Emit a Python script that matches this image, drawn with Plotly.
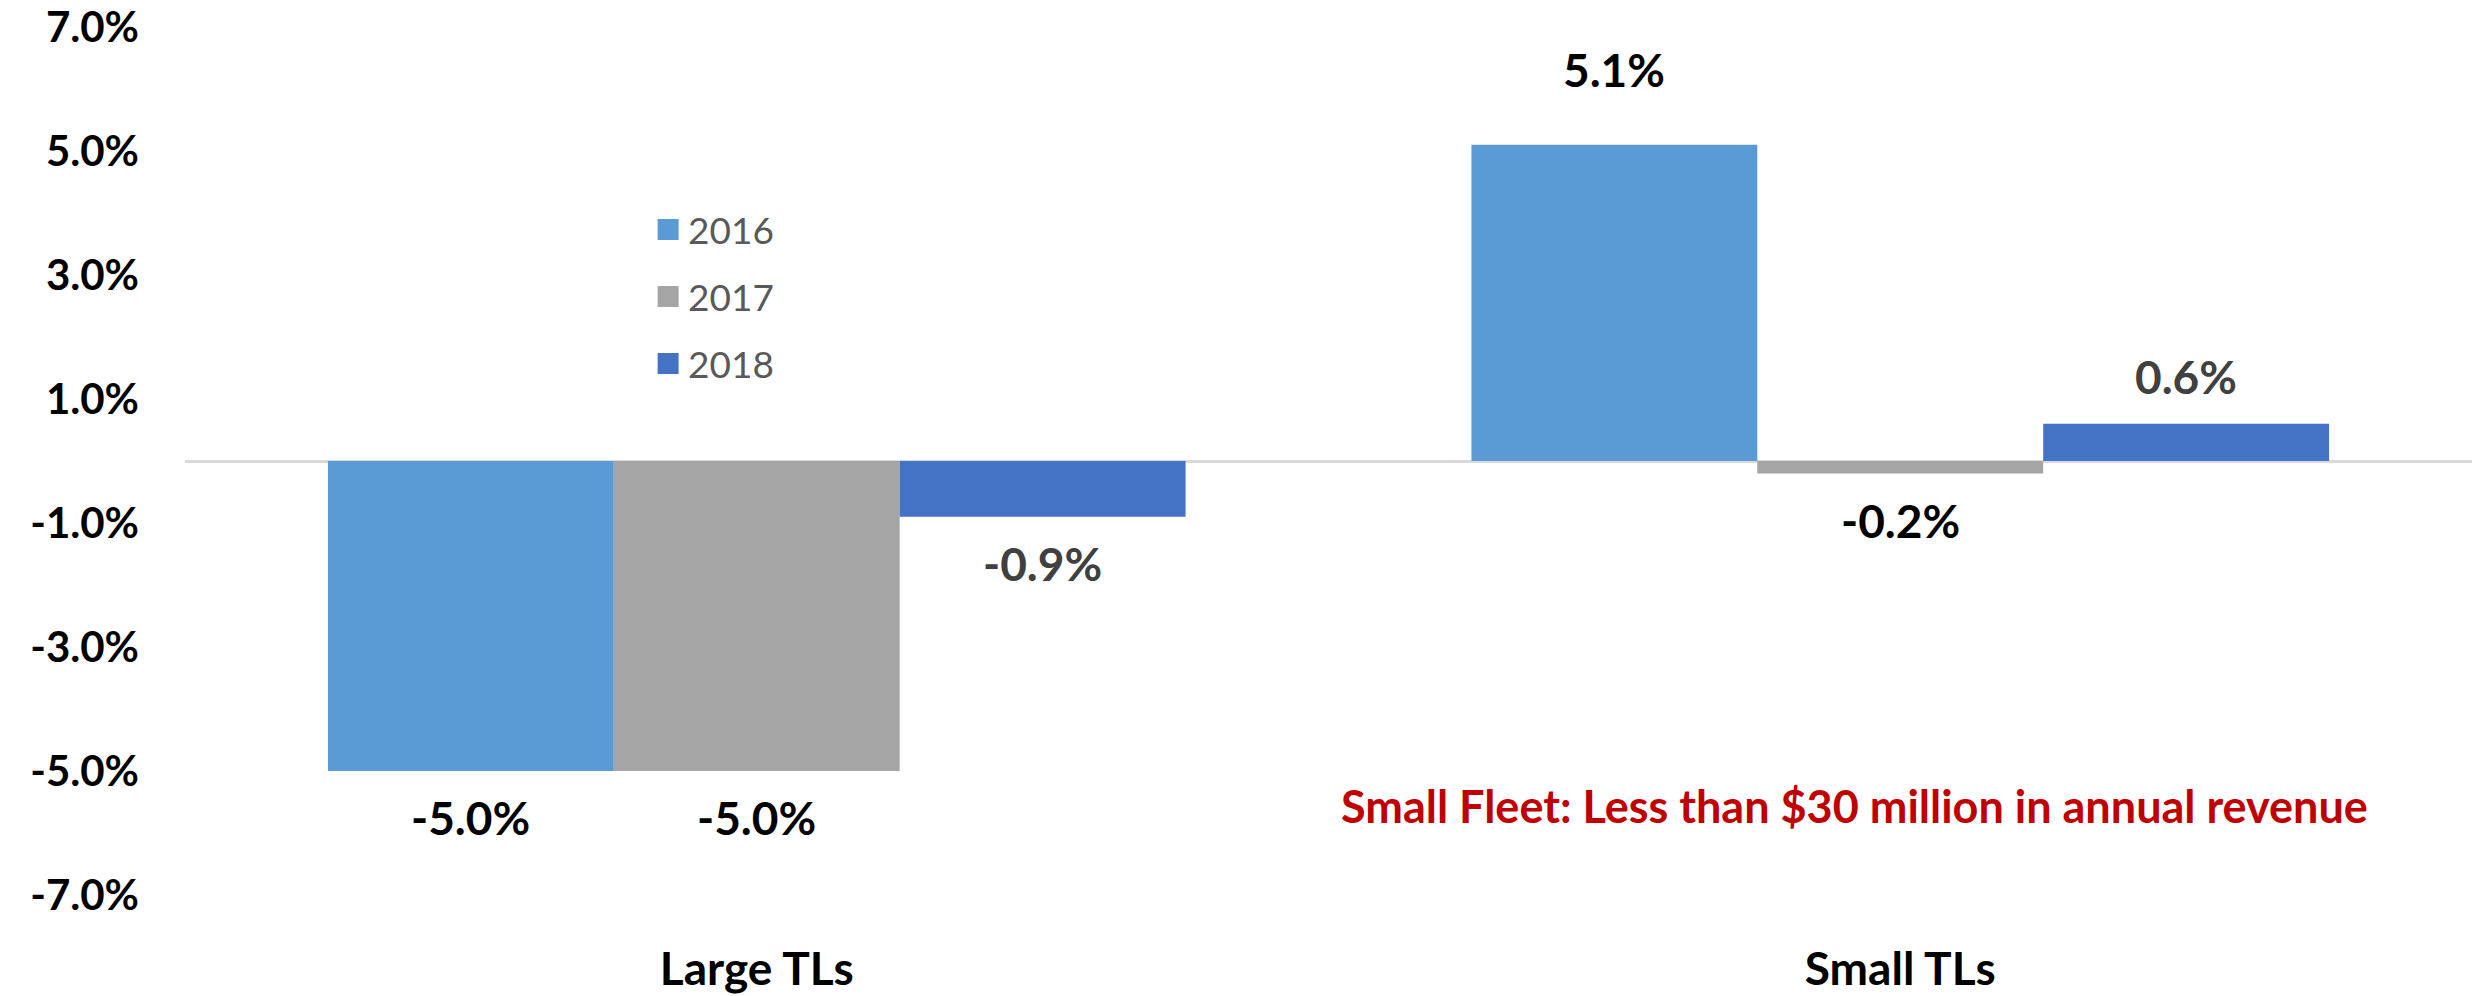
import plotly.graph_objects as go

# Truckload carriers: year-over-year change by carrier size
categories = ["Large TLs", "Small TLs"]
years = ["2016", "2017", "2018"]
change_2016 = [-5.0, 5.1]
change_2017 = [-5.0, -0.2]
change_2018 = [-0.9, 0.6]
y_tick_values = [-7, -5, -3, -1, 1, 3, 5, 7]
y_tick_labels = ["-7.0%", "-5.0%", "-3.0%", "-1.0%", "1.0%", "3.0%", "5.0%", "7.0%"]
note_text = "Small Fleet: Less than $30 million in annual revenue"

series = [change_2016, change_2017, change_2018]
bar_colors = ["#5B9BD5", "#A5A5A5", "#4472C4"]
label_colors = ["#000000", "#000000", "#404040"]

FONT = "Lato"
BARGAP = 0.25
x_pos = list(range(len(categories)))

fig = go.Figure()

for name, vals, col in zip(years, series, bar_colors):
    fig.add_trace(go.Bar(
        x=x_pos, y=vals, name=name, marker=dict(color=col, line=dict(width=0)),
        showlegend=False, hoverinfo="skip",
    ))
    # legend swatch (bar legend symbols are fixed small, so use a square marker)
    fig.add_trace(go.Scatter(
        x=[None], y=[None], mode="markers", name=name, legendgroup=name,
        marker=dict(symbol="square", size=16, color=col, line=dict(color=col, width=5)),
    ))

# value labels just beyond the end of each bar
n = len(series)
bar_w = (1 - BARGAP) / n
annotations = []
for k, (vals, lc) in enumerate(zip(series, label_colors)):
    for i, v in enumerate(vals):
        xc = i - (1 - BARGAP) / 2 + bar_w * (k + 0.5)
        shift = 47
        if k == 0 and i == 1:
            shift = 75
        annotations.append(dict(
            x=xc, y=v, xref="x", yref="y", text=f"{v:.1f}%", showarrow=False,
            yanchor="middle", yshift=shift if v >= 0 else -shift,
            font=dict(family=FONT, size=46, color=lc, weight="bold"),
        ))

annotations.append(dict(
    x=0.7298, y=0.1026, xref="paper", yref="paper", text=note_text, showarrow=False,
    xanchor="center", yanchor="middle",
    font=dict(family=FONT, size=45, color="#C00000", weight="bold"),
))

fig.update_layout(
    width=2479, height=996,
    margin=dict(l=185, r=7, t=27, b=101),
    paper_bgcolor="white", plot_bgcolor="white",
    barmode="group", bargap=BARGAP, bargroupgap=0,
    annotations=annotations,
    legend=dict(
        x=0.2025, y=0.802, xanchor="left", yanchor="top",
        bgcolor="rgba(0,0,0,0)", tracegroupgap=16,
        font=dict(family=FONT, size=37, color="#595959"),
    ),
    xaxis=dict(
        range=[-0.5, len(categories) - 0.5], tickmode="array",
        tickvals=x_pos, ticktext=categories, automargin=False,
        showgrid=False, zeroline=False, showline=False, ticks="",
        ticklabelstandoff=43,
        tickfont=dict(family=FONT, size=46, color="#000000", weight="bold"),
    ),
    yaxis=dict(
        range=[-7.0005, 7.0005], tickmode="array", tickvals=y_tick_values, ticktext=y_tick_labels,
        showgrid=False, showline=False, ticks="", automargin=False,
        zeroline=True, zerolinecolor="#D9D9D9", zerolinewidth=3,
        ticklabelstandoff=45,
        tickfont=dict(family=FONT, size=42, color="#000000", weight="bold"),
    ),
)

fig.write_html("out.html")
